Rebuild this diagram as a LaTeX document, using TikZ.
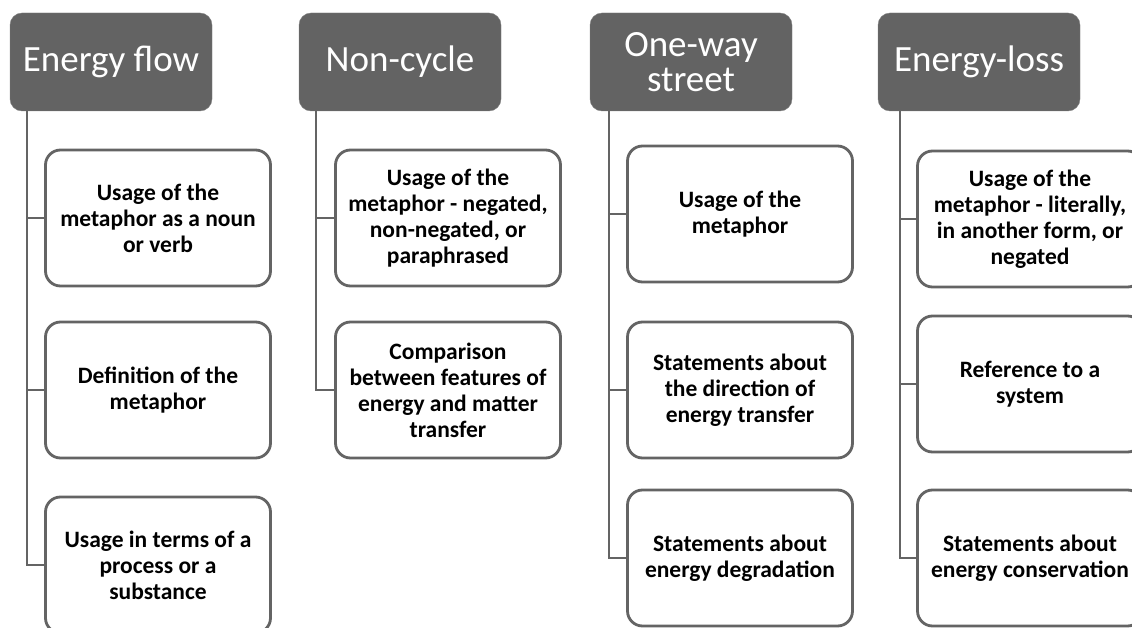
\documentclass[tikz,border=0pt]{standalone}
\usepackage{fontspec}
\setmainfont{Carlito}
\usepackage{tikz}
\usetikzlibrary{positioning}
\definecolor{headgray}{RGB}{99,99,99}
\definecolor{linegray}{RGB}{100,100,100}
\tikzstyle{head} = [draw=headgray!80!white, fill=headgray, rectangle, rounded corners=12pt,
    text=white, minimum height=98pt, minimum width=202pt, align=center,
    font=\fontsize{37}{35}\selectfont, inner sep=0pt]
\tikzstyle{item} = [draw=linegray, line width=2.8pt, fill=white, rectangle, rounded corners=15pt,
    minimum height=136pt, minimum width=225pt, align=center,
    font=\fontsize{23.5}{26}\selectfont\bfseries, inner sep=0pt]
\tikzstyle{branch} = [draw=linegray, line width=2.6pt]

\begin{document}
\begin{tikzpicture}[x=1pt, y=-1pt]
    \clip (0,0) rectangle (1132,628);
    \fill[white] (0,0) rectangle (1132,628);
    % % % % % % % % % % % % % % % % % % % % % % %
    % Headers
    % % % % % % % % % % % % % % % % % % % % % % %
    \node [head] (flow) at (111,62) {Energy flow};
    \node [head] (cycle) at (400,62) {Non-cycle};
    \node [head] (street) at (691,62) {One-way\\street};
    \node [head] (loss) at (979,62) {Energy-loss};

    % % % % % % % % % % % % % % % % % % % % % % %
    % Energy flow
    % % % % % % % % % % % % % % % % % % % % % % %
    \node [item] (flowa) at (158,218) {Usage of the\\metaphor as a noun\\or verb};
    \node [item] (flowb) at (158,390) {Definition of the\\metaphor};
    \node [item] (flowc) at (158,565) {Usage in terms of a\\process or a\\substance};

    \draw [branch] ([xshift=17pt]flow.south west) |- (flowa.west);
    \draw [branch] ([xshift=17pt]flow.south west) |- (flowb.west);
    \draw [branch] ([xshift=17pt]flow.south west) |- (flowc.west);

    % % % % % % % % % % % % % % % % % % % % % % %
    % Non-cycle
    % % % % % % % % % % % % % % % % % % % % % % %
    \node [item] (cyclea) at (448,218) {Usage of the\\metaphor - negated,\\non-negated, or\\paraphrased};
    \node [item] (cycleb) at (448,390) {Comparison\\between features of\\energy and matter\\transfer};

    \draw [branch] ([xshift=17pt]cycle.south west) |- (cyclea.west);
    \draw [branch] ([xshift=17pt]cycle.south west) |- (cycleb.west);

    % % % % % % % % % % % % % % % % % % % % % % %
    % One-way street
    % % % % % % % % % % % % % % % % % % % % % % %
    \node [item] (streeta) at (740,214) {Usage of the\\metaphor};
    \node [item] (streetb) at (740,390) {Statements about\\the direction of\\energy transfer};
    \node [item] (streetc) at (740,558) {Statements about\\energy degradation};

    \draw [branch] ([xshift=19pt]street.south west) |- (streeta.west);
    \draw [branch] ([xshift=19pt]street.south west) |- (streetb.west);
    \draw [branch] ([xshift=19pt]street.south west) |- (streetc.west);

    % % % % % % % % % % % % % % % % % % % % % % %
    % Energy-loss
    % % % % % % % % % % % % % % % % % % % % % % %
    \node [item] (lossa) at (1030,219) {Usage of the\\metaphor - literally,\\in another form, or\\negated};
    \node [item] (lossb) at (1030,384) {Reference to a\\system};
    \node [item] (lossc) at (1030,558) {Statements about\\energy conservation};

    \draw [branch] ([xshift=22pt]loss.south west) |- (lossa.west);
    \draw [branch] ([xshift=22pt]loss.south west) |- (lossb.west);
    \draw [branch] ([xshift=22pt]loss.south west) |- (lossc.west);
\end{tikzpicture}
\end{document}
